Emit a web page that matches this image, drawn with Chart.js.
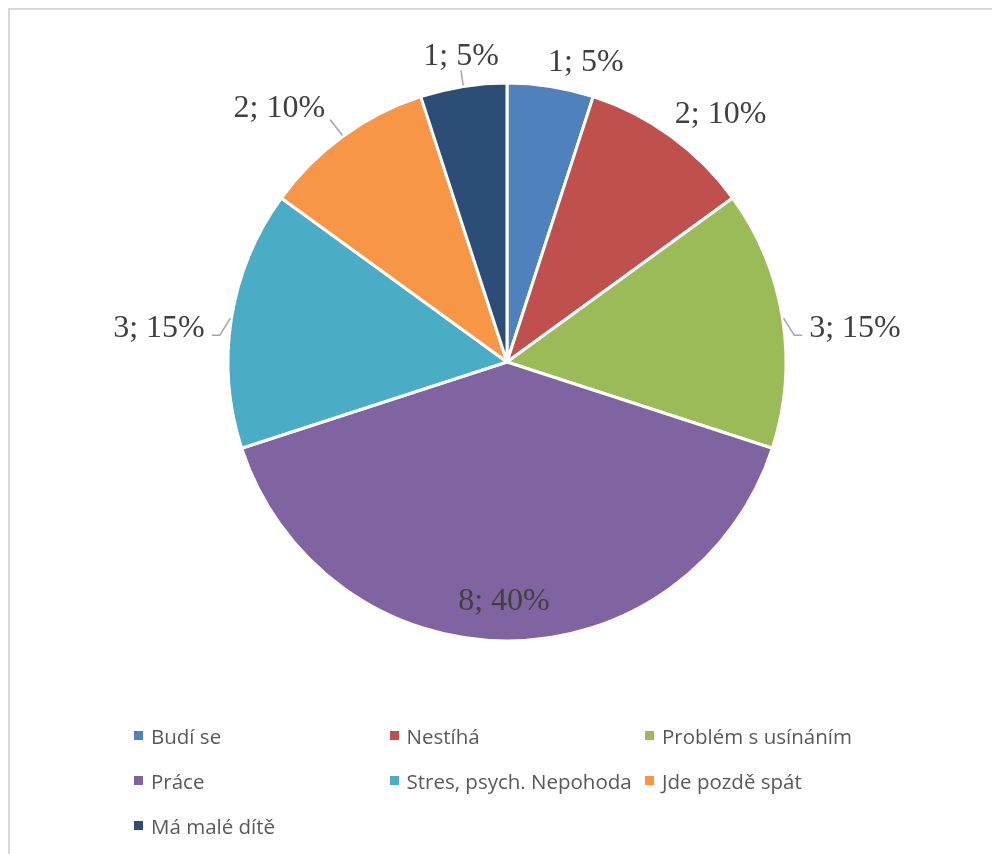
<!DOCTYPE html>
<html lang="cs">
<head>
<meta charset="utf-8">
<title>Důvody</title>
<script src="https://cdn.jsdelivr.net/npm/chart.js@4/dist/chart.umd.min.js"></script>
<style>
    html, body {
        margin: 0;
        padding: 0;
        background: #fff;
        overflow: hidden;
    }
    .frame {
        position: absolute;
        left: 8px;
        top: 8px;
        width: 1000px;
        height: 900px;
        border: 2px solid #d9d9d9;
        box-sizing: border-box;
    }
    #chart {
        position: absolute;
        left: 0;
        top: 0;
    }
    .legend {
        position: absolute;
        left: 134px;
        top: 713px;
        display: grid;
        grid-template-columns: repeat(3, 255.5px);
        grid-auto-rows: 45px;
        font-family: "Open Sans", sans-serif;
        font-size: 20.5px;
        color: #595959;
    }
    .legend-item {
        display: flex;
        align-items: center;
        white-space: nowrap;
    }
    .legend-box {
        width: 9px;
        height: 9px;
        margin-right: 8px;
        flex: none;
    }
</style>
</head>
<body>
<div class="frame"></div>
<canvas id="chart" width="992" height="854"></canvas>
<div class="legend" id="legend"></div>

<script>
// Categories and answer counts
const categories = [
    'Budí se',
    'Nestíhá',
    'Problém s usínáním',
    'Práce',
    'Stres, psych. Nepohoda',
    'Jde pozdě spát',
    'Má malé dítě'
];
const counts = [1, 2, 3, 8, 3, 2, 1];

const sliceColors = ['#4F81BD', '#C0504D', '#9BBB59', '#8064A2', '#4BACC6', '#F79646', '#2C4D75'];

const LABEL_FONT = '32px "Liberation Serif", "Times New Roman", serif';

/**
 * Draws "count; percent" labels around the pie, with leader lines
 */
const sliceLabels = {
    id: 'sliceLabels',
    afterDatasetsDraw(chart) {
        const ctx = chart.ctx;
        const meta = chart.getDatasetMeta(0);
        const total = counts.reduce((a, b) => a + b, 0);

        ctx.save();
        ctx.font = LABEL_FONT;
        ctx.fillStyle = '#404040';
        ctx.strokeStyle = '#a6a6a6';
        ctx.lineWidth = 1.5;

        meta.data.forEach((arc, i) => {
            const { x, y, startAngle, endAngle, outerRadius } =
                arc.getProps(['x', 'y', 'startAngle', 'endAngle', 'outerRadius'], true);
            const mid = (startAngle + endAngle) / 2;
            const ux = Math.cos(mid);
            const uy = Math.sin(mid);
            const share = counts[i] / total;
            const text = counts[i] + '; ' + Math.round(share * 100) + '%';

            // Big slice: label sits inside
            if (share >= 0.3) {
                ctx.textAlign = 'center';
                ctx.textBaseline = 'middle';
                ctx.fillText(text, x + ux * outerRadius * 0.86 - 3, y + uy * outerRadius * 0.86);
                return;
            }

            const edgeX = x + ux * (outerRadius + 1);
            const edgeY = y + uy * (outerRadius + 1);
            ctx.textBaseline = 'alphabetic';

            if (Math.abs(ux) > 0.9) {
                // Side labels, left or right of the pie
                const r = outerRadius + 27;
                const ax = x + ux * r;
                const ay = y + uy * r;
                const s = Math.sign(ux);
                const base = ay + 23;
                ctx.textAlign = s > 0 ? 'left' : 'right';
                ctx.fillText(text, ax, base);

                ctx.beginPath();
                ctx.moveTo(edgeX, edgeY);
                ctx.lineTo(ax - 15 * s, base - 2);
                ctx.lineTo(ax - 7 * s, base - 2);
                ctx.stroke();
                return;
            }

            // Labels above the pie
            let align = 'center';
            if (ux > 0.1) align = 'left';
            else if (ux < -0.3) align = 'right';
            const r = outerRadius + (align === 'right' ? 22 : 15);
            const ax = x + ux * r - (align === 'center' ? 0 : 5);
            const ay = y + uy * r;
            const base = align === 'center' ? ay - 7 : ay - 1;
            ctx.textAlign = align;
            ctx.fillText(text, ax, base);

            if (ux < 0) {
                ctx.beginPath();
                ctx.moveTo(edgeX, edgeY);
                if (align === 'center') {
                    ctx.lineTo(ax, base + 6);
                } else {
                    ctx.lineTo(ax + 5, base + 2);
                }
                ctx.stroke();
            }
        });

        ctx.restore();
    }
};

const chart = new Chart(document.getElementById('chart'), {
    type: 'pie',
    data: {
        labels: categories,
        datasets: [{
            data: counts,
            backgroundColor: sliceColors,
            borderColor: '#ffffff',
            borderWidth: 3
        }]
    },
    options: {
        responsive: false,
        animation: false,
        events: [],
        radius: 279,
        layout: {
            padding: { left: 200, right: 178, top: 62, bottom: 192 }
        },
        plugins: {
            legend: { display: false },
            tooltip: { enabled: false }
        }
    },
    plugins: [sliceLabels]
});

// Legend in a three column grid, built from the chart's own data
const legendEl = document.getElementById('legend');
chart.data.labels.forEach((label, i) => {
    const item = document.createElement('div');
    item.className = 'legend-item';
    const box = document.createElement('span');
    box.className = 'legend-box';
    box.style.background = chart.data.datasets[0].backgroundColor[i];
    const txt = document.createElement('span');
    txt.textContent = label;
    item.appendChild(box);
    item.appendChild(txt);
    legendEl.appendChild(item);
});
</script>
</body>
</html>
